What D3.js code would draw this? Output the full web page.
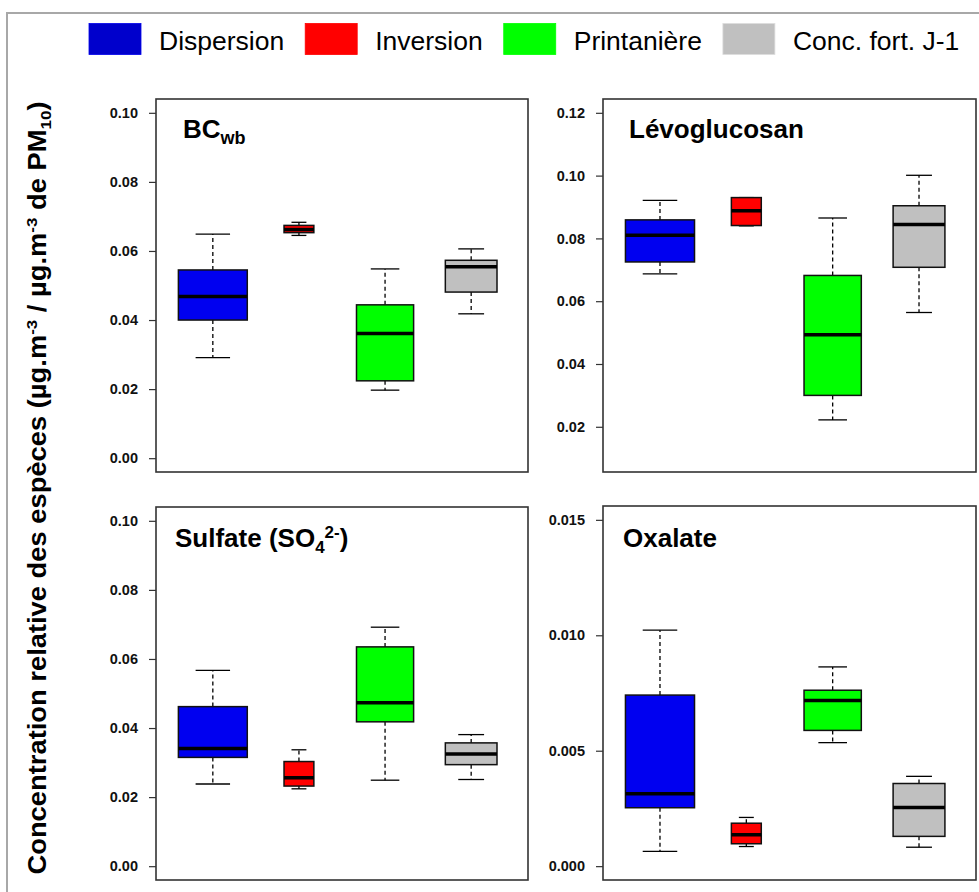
<!DOCTYPE html>
<html>
<head>
<meta charset="utf-8">
<script src="https://cdn.jsdelivr.net/npm/d3@7"></script>
<style>
  html, body { margin: 0; padding: 0; background: #fff; }
  svg { display: block; font-family: "Liberation Sans", Arial, sans-serif; }
</style>
</head>
<body>
<svg id="chart" width="979" height="892"></svg>
<script>
// ---------------- DATA ----------------
const groups = ["Dispersion", "Inversion", "Printanière", "Conc. fort. J-1"];
const groupColors = ["#0000f0", "#ff0000", "#00ff00", "#c0c0c0"];
const legendColors = ["#0000cc", "#ff0000", "#00ff00", "#c0c0c0"];
// number of days per situation (box widths proportional to sqrt(n))
const nDays = [32, 6, 22, 18];

// stats per group: [min, q1, median, q3, max]
const bcwbStats = [
  [0.0291, 0.0400, 0.0468, 0.0545, 0.0649],
  [0.0645, 0.0653, 0.0662, 0.0674, 0.0683],
  [0.0197, 0.0224, 0.0361, 0.0444, 0.0548],
  [0.0418, 0.0481, 0.0554, 0.0573, 0.0606]
];
const levoStats = [
  [0.0687, 0.0725, 0.0810, 0.0859, 0.0921],
  [0.0840, 0.0841, 0.0888, 0.0930, 0.0930],
  [0.0222, 0.0300, 0.0493, 0.0682, 0.0865],
  [0.0564, 0.0708, 0.0844, 0.0904, 0.1001]
];
const sulfStats = [
  [0.0238, 0.0315, 0.0341, 0.0462, 0.0567],
  [0.0224, 0.0232, 0.0256, 0.0303, 0.0337],
  [0.0249, 0.0418, 0.0473, 0.0635, 0.0692],
  [0.0251, 0.0294, 0.0325, 0.0357, 0.0381]
];
const oxalStats = [
  [0.00064, 0.00253, 0.00314, 0.00741, 0.01022],
  [0.00085, 0.00097, 0.00136, 0.00186, 0.00211],
  [0.00535, 0.00588, 0.00718, 0.00762, 0.00863],
  [0.00082, 0.00129, 0.00254, 0.00358, 0.00389]
];

const bcwbTicks = [0.00, 0.02, 0.04, 0.06, 0.08, 0.10];
const levoTicks = [0.02, 0.04, 0.06, 0.08, 0.10, 0.12];
const sulfTicks = [0.00, 0.02, 0.04, 0.06, 0.08, 0.10];
const oxalTicks = [0.000, 0.005, 0.010, 0.015];

const bcwbLim = [0, 0.10];
const levoLim = [0.01, 0.12];
const sulfLim = [0, 0.10];
const oxalLim = [0, 0.015];

// ---------------- LAYOUT ----------------
const svg = d3.select("#chart");
const FONT = '"Liberation Sans", Arial, sans-serif';

// outer light frame
svg.append("rect")
  .attr("x", 7).attr("y", 13)
  .attr("width", 1100).attr("height", 1000)
  .attr("fill", "none").attr("stroke", "#a8a8a8").attr("stroke-width", 2);

const panels = [
  { stats: bcwbStats, ticks: bcwbTicks, lim: bcwbLim, fmt: ".2f", x0: 156, x1: 528, y0: 99, y1: 472, title: "bc", tx: 183, ty: 138 },
  { stats: levoStats, ticks: levoTicks, lim: levoLim, fmt: ".2f", x0: 603, x1: 976, y0: 99, y1: 472, title: "levo", tx: 629, ty: 138 },
  { stats: sulfStats, ticks: sulfTicks, lim: sulfLim, fmt: ".2f", x0: 156, x1: 528, y0: 507, y1: 880, title: "sulf", tx: 175, ty: 547 },
  { stats: oxalStats, ticks: oxalTicks, lim: oxalLim, fmt: ".3f", x0: 603, x1: 976, y0: 506, y1: 880, title: "oxal", tx: 623, ty: 547 }
];

const maxN = d3.max(nDays);

panels.forEach(p => {
  const g = svg.append("g");
  const ext = (p.lim[1] - p.lim[0]) * 0.04;
  const y = d3.scaleLinear().domain([p.lim[0] - ext, p.lim[1] + ext]).range([p.y1, p.y0]);
  const x = d3.scaleLinear().domain([0.5 - 0.16, groups.length + 0.5 + 0.16]).range([p.x0, p.x1]);

  // axis
  const ax = g.append("g")
    .attr("transform", `translate(${p.x0},0)`)
    .call(d3.axisLeft(y).tickValues(p.ticks).tickSize(7).tickPadding(11).tickFormat(d3.format(p.fmt)));
  ax.select(".domain").remove();
  ax.selectAll(".tick line").attr("stroke", "#333").attr("stroke-width", 1.2);
  ax.selectAll(".tick text")
    .attr("font-family", FONT).attr("font-size", 14.5).attr("font-weight", "bold").attr("fill", "#111");

  // boxes
  p.stats.forEach((s, i) => {
    const cx = x(i + 1);
    const w = x(0.8 * Math.sqrt(nDays[i] / maxN)) - x(0);
    const [mn, q1, md, q3, mx] = s;
    const bg = g.append("g");
    // whiskers (dashed)
    bg.append("line").attr("x1", cx).attr("x2", cx).attr("y1", y(q3)).attr("y2", y(mx))
      .attr("stroke", "#000").attr("stroke-width", 1.3).attr("stroke-dasharray", "4,3");
    bg.append("line").attr("x1", cx).attr("x2", cx).attr("y1", y(q1)).attr("y2", y(mn))
      .attr("stroke", "#000").attr("stroke-width", 1.3).attr("stroke-dasharray", "4,3");
    // staples
    [mn, mx].forEach(v => {
      bg.append("line").attr("x1", cx - w / 4).attr("x2", cx + w / 4).attr("y1", y(v)).attr("y2", y(v))
        .attr("stroke", "#000").attr("stroke-width", 1.3);
    });
    // box
    bg.append("rect").attr("x", cx - w / 2).attr("y", y(q3)).attr("width", w).attr("height", y(q1) - y(q3))
      .attr("fill", groupColors[i]).attr("stroke", "#111").attr("stroke-width", 1.5);
    // median
    bg.append("line").attr("x1", cx - w / 2).attr("x2", cx + w / 2).attr("y1", y(md)).attr("y2", y(md))
      .attr("stroke", "#000").attr("stroke-width", 3.5);
  });

  // frame
  g.append("rect").attr("x", p.x0).attr("y", p.y0).attr("width", p.x1 - p.x0).attr("height", p.y1 - p.y0)
    .attr("fill", "none").attr("stroke", "#333").attr("stroke-width", 1.6);

  // title
  const t = g.append("text").attr("x", p.tx).attr("y", p.ty)
    .attr("font-family", FONT).attr("font-size", 26).attr("font-weight", "bold").attr("fill", "#000");
  if (p.title === "bc") {
    t.append("tspan").text("BC");
    t.append("tspan").attr("font-size", 18).attr("dy", 6).text("wb");
  } else if (p.title === "levo") {
    t.text("Lévoglucosan");
  } else if (p.title === "sulf") {
    t.append("tspan").text("Sulfate (SO");
    t.append("tspan").attr("font-size", 17).attr("dy", 6).text("4");
    t.append("tspan").attr("font-size", 17).attr("dy", -15).text("2-");
    t.append("tspan").attr("dy", 9).text(")");
  } else {
    t.text("Oxalate");
  }
});

// legend
let lx = 89;
groups.forEach((name, i) => {
  svg.append("rect").attr("x", lx).attr("y", 23.5).attr("width", 52).attr("height", 31)
    .attr("fill", legendColors[i]).attr("stroke", d3.color(legendColors[i]).brighter(0.4)).attr("stroke-width", 0.8);
  const tx = svg.append("text").attr("x", lx + 70).attr("y", 49.5)
    .attr("font-family", FONT).attr("font-size", 26.5).attr("fill", "#000").text(name);
  lx = lx + 70 + tx.node().getComputedTextLength() + 21;
});

// y-axis label
const yl = svg.append("text")
  .attr("transform", "translate(46,488) rotate(-90)")
  .attr("text-anchor", "middle")
  .attr("textLength", 773).attr("lengthAdjust", "spacingAndGlyphs")
  .attr("font-family", FONT).attr("font-size", 25).attr("font-weight", "bold").attr("fill", "#000");
yl.append("tspan").text("Concentration relative des espèces (µg.m");
yl.append("tspan").attr("font-size", 15.5).attr("dy", -9).text("-3");
yl.append("tspan").attr("dy", 9).text(" / µg.m");
yl.append("tspan").attr("font-size", 15.5).attr("dy", -9).text("-3");
yl.append("tspan").attr("dy", 9).text(" de PM");
yl.append("tspan").attr("font-size", 15.5).attr("dy", 5).text("10");
yl.append("tspan").attr("dy", -5).text(")");
</script>
</body>
</html>
